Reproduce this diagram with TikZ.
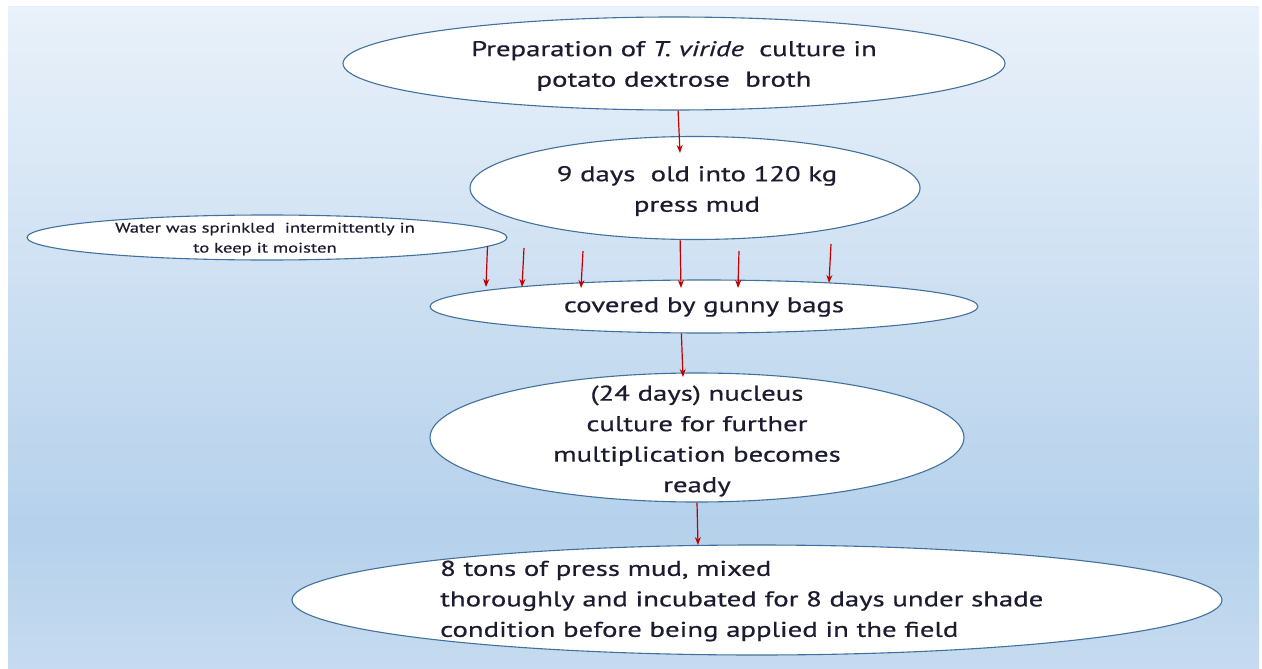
\documentclass[tikz,border=0pt]{standalone}
\usepackage{fontspec}
\setmainfont{PT Sans}[FakeStretch=1.35, FakeBold=0.6]
\usetikzlibrary{shapes.geometric,arrows.meta}
\definecolor{bgtop}{HTML}{E9F1FA}
\definecolor{bgmid}{HTML}{B5D1EB}
\definecolor{bgbot}{HTML}{C6DBF0}
\definecolor{edgeblue}{HTML}{41719C}
\definecolor{arrred}{HTML}{C00000}
\definecolor{txtdark}{HTML}{1C1C30}
\begin{document}
\begin{tikzpicture}[x=1pt,y=-1pt,
  oval/.style={ellipse, draw=edgeblue, line width=1.1pt, fill=white, inner sep=0pt},
  lbl/.style={text=txtdark, align=center, inner sep=0pt, font=\fontsize{21.3}{30.5}\selectfont},
  smalllbl/.style={text=txtdark, align=center, inner sep=0pt, font=\fontsize{13.8}{20}\selectfont},
  flow/.style={draw=arrred, line width=1.2pt, -{Stealth[length=8pt,width=6pt]}}]
\useasboundingbox (0,0) rectangle (1262,669);
\fill[white] (0,0) rectangle (1262,669);
\shade[top color=bgtop, bottom color=bgmid] (8,7) rectangle (1259,531);
\shade[top color=bgmid, bottom color=bgbot] (8,530) rectangle (1259,669);

% ellipses
\node[oval, minimum width=662pt, minimum height=93pt] (prep) at (674,63.5) {};
\node[oval, minimum width=450pt, minimum height=103pt] (mud) at (695,188) {};
\node[oval, minimum width=480pt, minimum height=45pt] (water) at (267,237.5) {};
\node[oval, minimum width=548pt, minimum height=53pt] (bags) at (704,306.5) {};
\node[oval, minimum width=534pt, minimum height=129pt] (nuc) at (697,437.5) {};
\node[oval, minimum width=930pt, minimum height=110pt] (field) at (757,600) {};

% texts
\node[lbl] (prept) at (674,66) {Preparation of \textit{T. viride}\ \ culture in\\potato dextrose\ \ broth};
\node[lbl] (mudt) at (697,191) {9 days\ \ old into 120 kg\\press mud};
\node[smalllbl] (watert) at (265,239) {Water was sprinkled\ \ intermittently in\\to keep it moisten};
\node[lbl] (bagst) at (704,307) {covered by gunny bags};
\node[lbl] (nuct) at (697,441) {(24 days) nucleus\\culture for further\\multiplication becomes\\ready};
\node[lbl, align=left, anchor=west] (fieldt) at (440,601) {8 tons of press mud, mixed\\thoroughly and incubated for 8 days under shade\\condition before being applied in the field};

% arrow end points
\coordinate (a1) at (680,153);
\coordinate (a2) at (681,288);
\coordinate (s1) at (487.5,246);
\coordinate (w1) at (486,287);
\coordinate (s2) at (524,248);
\coordinate (w2) at (522,287);
\coordinate (s3) at (583,251);
\coordinate (w3) at (581,288);
\coordinate (s5) at (739,251);
\coordinate (w5) at (738,288);
\coordinate (s6) at (831,244);
\coordinate (w6) at (829,283);
\coordinate (a3) at (683,377);
\coordinate (a4) at (698,545);

% arrows
\draw[flow] (prep.-85) -- (a1);
\draw[flow] (mud.-106) -- (a2);
\draw[flow] (s1) -- (w1);
\draw[flow] (s2) -- (w2);
\draw[flow] (s3) -- (w3);
\draw[flow] (s5) -- (w5);
\draw[flow] (s6) -- (w6);
\draw[flow] (bags.-130) -- (a3);
\draw[flow] (nuc.south) -- (a4);
\end{tikzpicture}
\end{document}
